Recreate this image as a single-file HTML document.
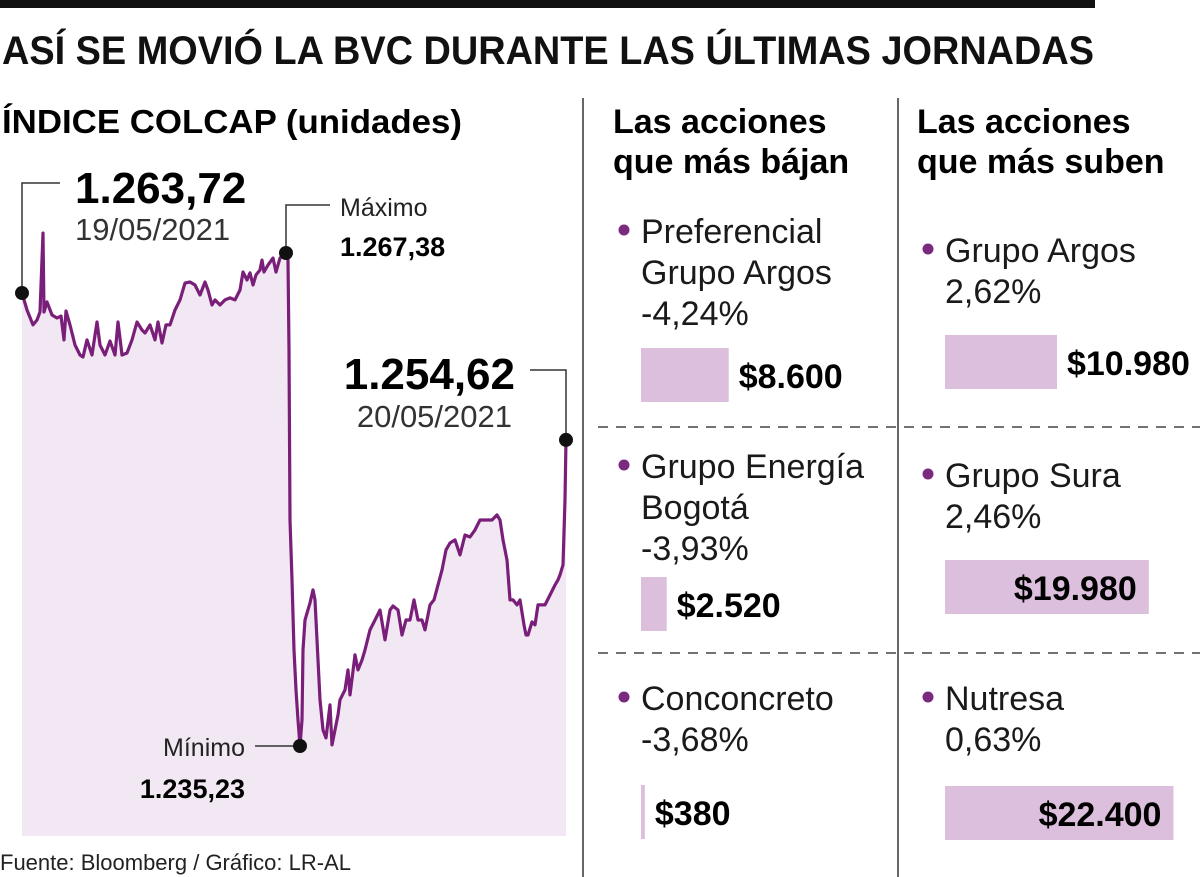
<!DOCTYPE html>
<html><head><meta charset="utf-8">
<style>
html,body{margin:0;padding:0;background:#fff;}
body{width:1200px;height:877px;position:relative;overflow:hidden;font-family:"Liberation Sans Narrow","Liberation Sans",sans-serif;color:#111;}
svg{position:absolute;left:0;top:0;}
text{font-family:"Liberation Sans Narrow","Liberation Sans",sans-serif;}
</style></head>
<body>
<svg id="s" width="1200" height="877" viewBox="0 0 1200 877">
<rect x="0" y="0" width="1095" height="8" fill="#111"/>
<text x="2" y="64" font-size="40" font-weight="bold" fill="#111" textLength="1092" lengthAdjust="spacingAndGlyphs">ASÍ SE MOVIÓ LA BVC DURANTE LAS ÚLTIMAS JORNADAS</text>
<text x="2" y="133" font-size="33" font-weight="bold" textLength="460" lengthAdjust="spacingAndGlyphs">ÍNDICE COLCAP (unidades)</text>
<line x1="583" y1="98" x2="583" y2="877" stroke="#333" stroke-width="1.5"/>
<line x1="898" y1="98" x2="898" y2="877" stroke="#333" stroke-width="1.5"/>
<line x1="598" y1="427" x2="1200" y2="427" stroke="#444" stroke-width="1.5" stroke-dasharray="10,8"/>
<line x1="598" y1="653" x2="1200" y2="653" stroke="#444" stroke-width="1.5" stroke-dasharray="10,8"/>
<g id="chart"></g>
<g id="cols"></g>
<text x="0" y="870" font-size="22" fill="#222">Fuente: Bloomberg / Gráfico: LR-AL</text>
</svg>
<script>
const times=[0,5,11,15,18,21,22,25,30,35,39,42,44,48,53,58,61,65,70,75,78,83,88,93,96,100,105,110,115,120,123,128,133,136,140,144,148,153,158,163,168,173,178,183,186,190,193,198,203,208,213,218,221,225,228,231,234,238,240,242,246,251,254,258,261,264,266,267,268,270,272,274,276,278,280,281,283,288,291,293,295,298,301,304,308,310,313,316,318,323,326,328,333,336,340,343,348,353,358,363,368,371,376,380,384,388,392,396,400,403,408,412,416,420,424,428,433,438,443,448,453,458,465,470,475,478,481,485,488,491,495,498,502,504,506,510,513,516,518,523,528,533,536,538,541,543,544,544];
const values=[1264.77,1263.66,1262.69,1263.01,1263.53,1268.68,1263.53,1264.19,1263.34,1263.14,1263.27,1261.71,1263.60,1262.69,1261.38,1260.73,1260.60,1261.71,1260.73,1262.88,1261.38,1260.73,1261.64,1260.73,1262.88,1260.73,1260.86,1261.71,1262.88,1262.36,1262.16,1262.69,1261.71,1262.88,1261.51,1262.69,1262.69,1263.66,1264.32,1265.42,1265.49,1265.29,1264.64,1265.49,1264.97,1263.99,1264.32,1263.99,1264.32,1264.45,1264.32,1264.97,1266.14,1265.62,1266.08,1265.29,1265.95,1266.27,1266.92,1266.14,1266.60,1267.05,1266.14,1267.05,1267.25,1267.38,1266.92,1261.06,1249.97,1246.06,1241.50,1238.89,1236.93,1235.23,1236.93,1241.50,1243.45,1244.56,1245.41,1244.76,1242.15,1238.24,1236.28,1235.76,1237.91,1235.30,1236.28,1237.26,1238.24,1238.89,1240.19,1238.56,1241.17,1240.19,1240.84,1241.50,1242.80,1243.45,1244.10,1242.15,1244.10,1244.36,1244.10,1242.47,1243.45,1243.45,1244.76,1243.45,1243.45,1242.80,1244.43,1244.76,1245.73,1246.71,1248.02,1248.47,1248.67,1247.69,1248.99,1248.86,1249.32,1249.97,1249.97,1249.97,1250.30,1249.97,1248.67,1247.36,1244.76,1244.76,1244.43,1244.76,1243.13,1242.47,1242.47,1243.32,1243.13,1244.43,1244.43,1244.43,1245.08,1245.73,1246.06,1246.39,1247.04,1251.28,1255.19];
const lowNames=[["Preferencial","Grupo Argos"],["Grupo Energía","Bogotá"],["Conconcreto"]];
const lowPct=["-4,24%","-3,93%","-3,68%"];
const lowPrice=[8600,2520,380];
const highNames=[["Grupo Argos"],["Grupo Sura"],["Nutresa"]];
const highPct=["2,62%","2,46%","0,63%"];
const highPrice=[10980,19980,22400];

const NS="http://www.w3.org/2000/svg";
function mk(tag,attrs,parent,txt){const e=document.createElementNS(NS,tag);for(const k in attrs)e.setAttribute(k,attrs[k]);if(txt!==undefined)e.textContent=txt;parent.appendChild(e);return e;}
const xS=t=>22+t*(566-22)/544;
const yS=v=>253+(1267.38-v)*(493/32.15);
const chart=document.getElementById('chart');
const bottom=836;
const N=Math.min(times.length,values.length);
let d="";for(let i=0;i<N;i++){d+=(i?"L":"M")+xS(times[i]).toFixed(1)+","+yS(values[i]).toFixed(1);}
const area=mk('path',{d:d+"L"+xS(times[N-1]).toFixed(1)+","+bottom+"L"+xS(times[0]).toFixed(1)+","+bottom+"Z",fill:"#f2e8f3"},chart);


const line=mk('path',{d:d,fill:"none",stroke:"#7a1f79","stroke-width":"3.2","stroke-linejoin":"round"},chart);


function fmtP(p){return "$"+p.toLocaleString('de-DE');}
function callout(name,pts,dx,dy){const p=mk('polyline',{points:pts,fill:"none",stroke:"#333","stroke-width":"1.5"},chart);const c=mk('circle',{cx:dx,cy:dy,r:7,fill:"#111"},chart);}
const sub=values.slice(20,N);
const iMax=20+sub.indexOf(Math.max(...sub));
const iMin=values.indexOf(Math.min(...values.slice(0,N)));
const n=N-1;
const sx=xS(times[0]),sy=yS(values[0]);
callout('start',`${sx},${sy} ${sx},183 60,183`,sx,sy);
const mx=xS(times[iMax]),my=yS(values[iMax]);
callout('max',`${mx},${my} ${mx},205 330,205`,mx,my);
const ex=xS(times[n]),ey=yS(values[n]);
callout('end',`${ex},${ey} ${ex},370 530,370`,ex,ey);
const nx=xS(times[iMin]),ny=yS(values[iMin]);
callout('min',`${nx},${ny} 255,${ny}`,nx,ny);
function T(x,y,size,txt,name,opts){const a={x:x,y:y,'font-size':size};Object.assign(a,opts||{});const e=mk('text',a,chart,txt);return e;}
T(75,203,44,"1.263,72",'start-value',{'font-weight':'bold'});
T(75,240,31,"19/05/2021",'start-date',{fill:'#333'});
T(340,216,25,"Máximo",'max-label',{fill:'#222'});
T(340,256,27,"1.267,38",'max-value',{'font-weight':'bold'});
T(515,389,44,"1.254,62",'end-value',{'font-weight':'bold','text-anchor':'end'});
T(512,427,31,"20/05/2021",'end-date',{fill:'#333','text-anchor':'end'});
T(245,756,25,"Mínimo",'min-label',{fill:'#222','text-anchor':'end'});
T(245,798,27,"1.235,23",'min-value',{'font-weight':'bold','text-anchor':'end'});
const cols=document.getElementById('cols');
function col(x0,head,names,pcts,prices,ys,barYs,inside,key){
  const h=mk('text',{x:x0-4,y:133,'font-size':34,'font-weight':'bold'},cols);
  
  
  mk('tspan',{x:x0-4,y:133},h,"Las acciones");mk('tspan',{x:x0-4,y:173},h,head);
  names.forEach((nm,i)=>{
    const y0=ys[i];
    const dot=mk('circle',{cx:x0+7,cy:y0-13,r:5.5,fill:"#7b2a7f"},cols);
    
    
    const lines=nm.concat([pcts[i]]);
    const t=mk('text',{x:x0+24,y:y0,'font-size':34,fill:'#1a1a1a'},cols);
    
    
    lines.forEach((l,j)=>mk('tspan',{x:x0+24,y:y0+j*41},t,l));
    const by=barYs[i];const w=prices[i]*0.0102;
    const r=mk('rect',{x:x0+24,y:by,width:w,height:54,fill:"#dcbedd"},cols);
    
    
    const tx=inside[i]?x0+24+w-12:x0+24+w+10;
    const pt=mk('text',{x:tx,y:by+40,'font-size':34,'font-weight':'bold','text-anchor':inside[i]?'end':'start'},cols,fmtP(prices[i]));
    
    
  });
}
col(617,"que más bájan",lowNames,lowPct,lowPrice,[243,478,710],[348,577,785],[false,false,false],'losers');
col(921,"que más suben",highNames,highPct,highPrice,[262,487,710],[335,560,786],[false,true,true],'gainers');
</script>
</body></html>
